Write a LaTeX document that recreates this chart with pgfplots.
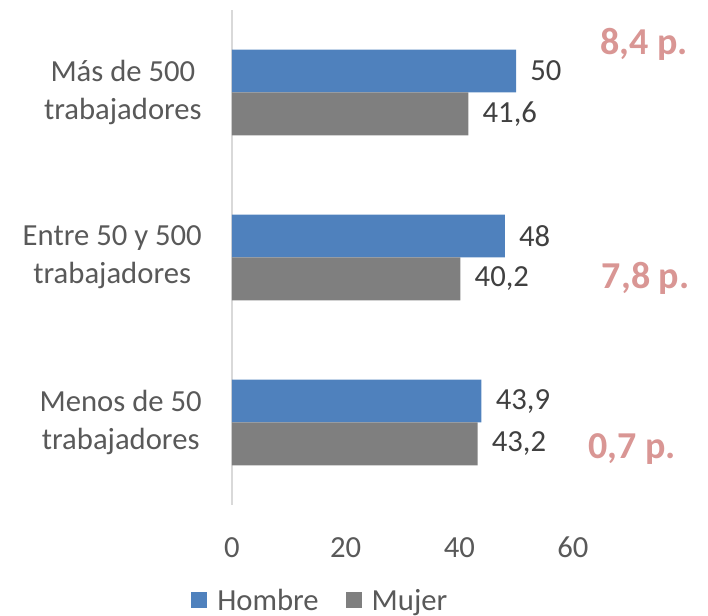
\documentclass[border=0pt]{standalone}
\usepackage{fontspec}
\setmainfont{Carlito}
\usepackage{pgfplots}
\pgfplotsset{compat=1.18}
\definecolor{blueb}{RGB}{79,129,189}
\definecolor{grayb}{RGB}{127,127,127}
\definecolor{pinkt}{RGB}{217,150,148}
\definecolor{txt}{RGB}{89,89,89}
\definecolor{val}{RGB}{64,64,64}
\definecolor{axl}{RGB}{217,217,217}
\begin{document}
\begin{tikzpicture}
\begin{axis}[
  scale only axis, width=255.75pt, height=371.25pt,
  xmin=0, xmax=60, ymin=-0.5, ymax=2.5,
  xbar, bar width=0.26,
  axis x line*=bottom, axis y line*=left,
  x axis line style={draw=none},
  y axis line style={draw=axl, line width=1.2pt},
  xtick={0,20,40,60}, ytick={0,1,2},
  yticklabels={{Menos de 50\\trabajadores},{Entre 50 y 500\\trabajadores},{Más de 500\\trabajadores}},
  major tick length=0pt,
  tick style={draw=none},
  /pgf/number format/assume math mode=true,
  /pgf/number format/use comma,
  tick label style={font=\fontsize{23}{28.5}\selectfont, text=txt, inner sep=0pt},
  yticklabel style={align=center, xshift=-22.5pt},
  xticklabel style={yshift=-24pt},
  nodes near coords,
  nodes near coords style={font=\fontsize{23}{28}\selectfont, text=val, inner sep=0pt, anchor=west, xshift=10.5pt},
  clip=false,
  legend columns=2,
  legend style={draw=none, fill=none, at={(rel axis cs:-0.1202,-0.193)}, anchor=west,
    inner sep=0pt, font=\fontsize{23}{28}\selectfont, text=txt, nodes={inner sep=0pt},
    column sep=7.5pt, /tikz/every even column/.append style={column sep=20.25pt}},
]
\addplot[fill=blueb, draw=none, bar shift=0.13,
  legend image code/.code={\path[fill=blueb] (0pt,-5.6pt) rectangle (12pt,6.4pt);}]
  coordinates {(43.9,0) (48,1) (50,2)};
\addlegendentry{Hombre}
\addplot[fill=grayb, draw=none, bar shift=-0.13,
  legend image code/.code={\path[fill=grayb] (0pt,-5.6pt) rectangle (12pt,6.4pt);}]
  coordinates {(43.2,0) (40.2,1) (41.6,2)};
\addlegendentry{Mujer}
\coordinate (O) at (rel axis cs:0,0);
\node[anchor=base west, font=\bfseries\fontsize{28.5}{30}\selectfont, text=pinkt, inner sep=0pt] at (axis cs:64.75,2.233) {8,4 p.};
\node[anchor=base west, font=\bfseries\fontsize{28.5}{30}\selectfont, text=pinkt, inner sep=0pt] at (axis cs:65.05,0.815) {7,8 p.};
\node[anchor=base west, font=\bfseries\fontsize{28.5}{30}\selectfont, text=pinkt, inner sep=0pt] at (axis cs:62.64,-0.221) {0,7 p.};
\end{axis}
\pgfresetboundingbox
\path ([shift={(-174pt,-83.25pt)}]O) rectangle ([shift={(357pt,378.75pt)}]O);
\end{tikzpicture}
\end{document}
